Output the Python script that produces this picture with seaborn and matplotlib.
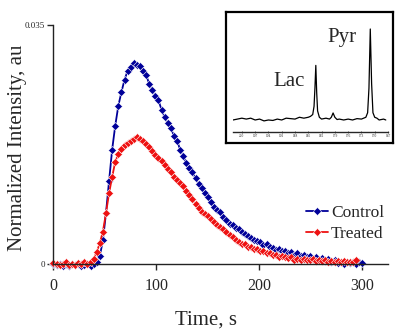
import numpy as np
import pandas as pd
import seaborn as sns
import matplotlib.pyplot as plt

# time courses (s) and normalized intensities
time_control = list(range(0, 301, 3))
control = [0.0001, -0.0001, 0.0000, -0.0002, 0.0000, -0.0002, 0.0001, -0.0001, 0.0000, -0.0002,
           -0.0001, 0.0000, -0.0002, 0.0001, 0.0004, 0.0012, 0.0035, 0.0075, 0.0122, 0.0168,
           0.0203, 0.0232, 0.0252, 0.0270, 0.0283, 0.0288, 0.0294, 0.0292, 0.0290, 0.0283,
           0.0277, 0.0264, 0.0255, 0.0246, 0.0240, 0.0226, 0.0215, 0.0207, 0.0199, 0.0188,
           0.0181, 0.0168, 0.0159, 0.0148, 0.0141, 0.0135, 0.0126, 0.0118, 0.0111, 0.0105,
           0.0099, 0.0091, 0.0084, 0.0079, 0.0076, 0.0069, 0.0065, 0.0059, 0.0057, 0.0053,
           0.0051, 0.0047, 0.0044, 0.0041, 0.0039, 0.0035, 0.0034, 0.0032, 0.0028, 0.0029,
           0.0025, 0.0024, 0.0021, 0.0022, 0.0019, 0.0020, 0.0016, 0.0018, 0.0014, 0.0016,
           0.0012, 0.0014, 0.0010, 0.0012, 0.0008, 0.0011, 0.0007, 0.0009, 0.0005, 0.0008,
           0.0004, 0.0006, 0.0002, 0.0004, 0.0001, 0.0003, 0.0002, 0.0004, 0.0001, 0.0003,
           0.0002]

time_treated = list(range(0, 295, 3))
treated = [0.0002, 0.0001, -0.0001, 0.0000, 0.0003, -0.0001, 0.0001, -0.0001, 0.0002, 0.0000,
           0.0003, 0.0001, 0.0003, 0.0008, 0.0018, 0.0031, 0.0048, 0.0075, 0.0104, 0.0128,
           0.0150, 0.0162, 0.0169, 0.0174, 0.0178, 0.0181, 0.0184, 0.0187, 0.0183, 0.0180,
           0.0176, 0.0171, 0.0166, 0.0160, 0.0155, 0.0151, 0.0146, 0.0140, 0.0135, 0.0128,
           0.0123, 0.0119, 0.0114, 0.0107, 0.0101, 0.0095, 0.0088, 0.0082, 0.0077, 0.0073,
           0.0070, 0.0066, 0.0062, 0.0057, 0.0054, 0.0052, 0.0047, 0.0043, 0.0040, 0.0036,
           0.0033, 0.0030, 0.0029, 0.0026, 0.0026, 0.0023, 0.0022, 0.0020, 0.0019, 0.0016,
           0.0016, 0.0014, 0.0013, 0.0011, 0.0012, 0.0010, 0.0009, 0.0010, 0.0007, 0.0008,
           0.0006, 0.0008, 0.0007, 0.0006, 0.0008, 0.0005, 0.0007, 0.0005, 0.0006, 0.0004,
           0.0005, 0.0003, 0.0005, 0.0004, 0.0005, 0.0003, 0.0004, 0.0003, 0.0006]

# inset 13C spectrum (ppm, relative intensity)
ppm = [202, 201, 200, 199, 198, 197, 196, 195, 194, 193, 192, 191, 190, 189, 188, 187, 186, 185,
       184.5, 184, 183.7, 183.5, 183.3, 183.1, 182.9, 182.5, 182, 181, 180.2, 179.8, 179.4, 179.0,
       178.5, 178, 177, 176, 175, 174, 173, 172, 171.6, 171.3, 171.0, 170.7, 170.4, 170, 169.5,
       169, 168, 167.5]
spectrum = [0.00, 0.01, 0.02, 0.01, 0.02, 0.00, 0.01, -0.01, 0.00, -0.005, 0.01, 0.00, 0.02, 0.015,
            0.01, 0.03, 0.02, 0.03, 0.04, 0.06, 0.15, 0.35, 0.60, 0.30, 0.10, 0.03, 0.01, 0.02,
            0.01, 0.03, 0.077, 0.03, 0.005, 0.01, 0.00, 0.01, 0.00, 0.015, 0.01, 0.03, 0.08, 0.35,
            1.00, 0.40, 0.08, 0.03, 0.02, 0.00, 0.01, 0.00]
ppm_ticks = [200, 197, 194, 191, 188, 185, 182, 179, 176, 173, 170, 167]

sns.set_style("ticks")
plt.rcParams['font.family'] = ['Liberation Serif', 'DejaVu Serif']

df = pd.concat([
    pd.DataFrame({'time': time_control, 'intensity': control, 'group': 'Control'}),
    pd.DataFrame({'time': time_treated, 'intensity': treated, 'group': 'Treated'}),
])

fig = plt.figure(figsize=(3.95, 3.35), dpi=100)
ax = fig.add_axes([0.1354, 0.211, 0.847, 0.714])

sns.lineplot(data=df, x='time', y='intensity', hue='group', style='group',
             palette={'Control': '#000099', 'Treated': '#ee1111'},
             markers={'Control': 'D', 'Treated': 'D'}, dashes=False,
             markersize=4.2, markeredgewidth=0.4, linewidth=1.3,
             clip_on=False, ax=ax)

ax.set_xlim(0, 325)
ax.set_ylim(0, 0.035)
ax.set_xticks([0, 100, 200, 300])
ax.set_yticks([0, 0.035])
ax.set_yticklabels(['0', '0.035'], fontsize=6.5)
ax.tick_params(axis='x', labelsize=11.5, length=4, width=1, pad=6)
ax.tick_params(axis='y', length=4, width=1, pad=2)
for s in ['top', 'right']:
    ax.spines[s].set_visible(False)
for s in ['left', 'bottom']:
    ax.spines[s].set_linewidth(1.0)
    ax.spines[s].set_color('#222222')
ax.set_xlabel('')
ax.set_ylabel('Normalized Intensity, au', fontsize=15)
ax.yaxis.set_label_coords(-0.079, 0.486)
fig.text(206 / 395, 1 - 320 / 335, 'Time, s', fontsize=15, ha='center', va='center')

leg = ax.legend(loc='upper left', bbox_to_anchor=(297 / 395, 1 - 196 / 335),
                bbox_transform=fig.transFigure, frameon=False, fontsize=12.5,
                handlelength=1.3, handletextpad=0.15, labelspacing=0.3, borderpad=0)

# inset frame
box = fig.add_axes([0.572, 0.573, 0.423, 0.391])
box.set_xticks([])
box.set_yticks([])
for s in box.spines.values():
    s.set_linewidth(1.6)
    s.set_color('black')
box.patch.set_facecolor('white')

# inset spectrum
spec = fig.add_axes([233 / 395, 1 - 132 / 335, 155 / 395, 107 / 335])
spec.patch.set_alpha(0)
sns.lineplot(x=ppm, y=spectrum, color='black', linewidth=0.9, ax=spec, sort=False)
spec.set_xlim(202, 167.5)
spec.set_ylim(-0.132, 1.044)
for s in ['top', 'right', 'left']:
    spec.spines[s].set_visible(False)
spec.spines['bottom'].set_linewidth(1.0)
spec.set_yticks([])
spec.set_xticks(ppm_ticks)
spec.tick_params(axis='x', labelsize=2.5, length=1.5, width=0.5, pad=0.5, direction='inout')
spec.text(183.3 + 6.0, 0.42, 'Lac', fontsize=15, ha='center', va='center')
spec.text(171.0 + 6.3, 0.91, 'Pyr', fontsize=15, ha='center', va='center')

fig.savefig('out.png', dpi=100)
